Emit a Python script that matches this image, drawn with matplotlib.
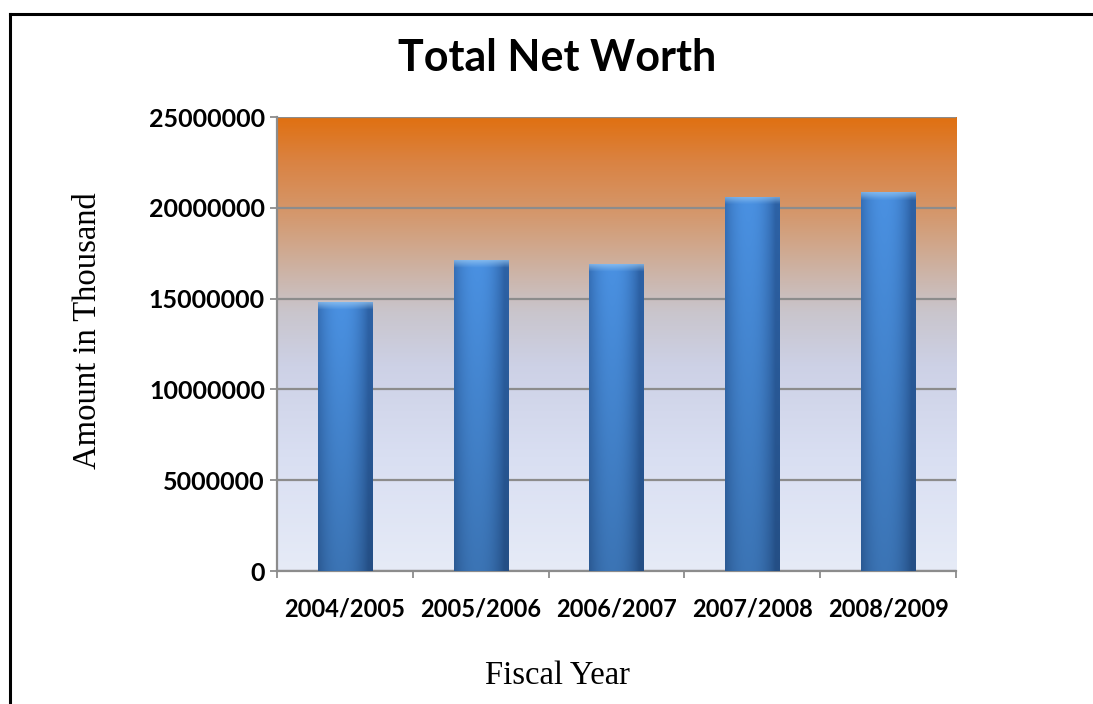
import numpy as np
import matplotlib
matplotlib.use("Agg")
import matplotlib.pyplot as plt
from matplotlib.colors import LinearSegmentedColormap, to_rgb
from matplotlib.lines import Line2D

# Net worth per fiscal year (amount in thousand)
years = ["2004/2005", "2005/2006", "2006/2007", "2007/2008", "2008/2009"]
net_worth = [14800000, 17100000, 16900000, 20600000, 20850000]
y_ticks = [0, 5000000, 10000000, 15000000, 20000000, 25000000]

fig = plt.figure(figsize=(10.93, 7.04), dpi=100)
ax = fig.add_axes([0.2534, 0.1889, 0.6213, 0.6449])

x = np.arange(len(years))
ax.set_xlim(-0.5, len(years) - 0.5)
ax.set_ylim(0, 25000000)

# plot area background: pale blue at the bottom, orange at the top
bg = LinearSegmentedColormap.from_list("bg", [
    (0.00, "#e6ebf7"),
    (0.25, "#d9dff2"),
    (0.45, "#cdd1e6"),
    (0.57, "#c9c5cc"),
    (0.66, "#cdb3a5"),
    (0.78, "#d4996f"),
    (0.90, "#da8343"),
    (1.00, "#e07010"),
])
grad = np.linspace(0, 1, 256).reshape(-1, 1)
ax.imshow(grad, cmap=bg, origin="lower", aspect="auto",
          extent=(-0.5, len(years) - 0.5, 0, 25000000), zorder=0)

ax.set_yticks(y_ticks)
ax.grid(axis="y", color="#8c8c8c", linewidth=1.6, zorder=1)
ax.set_axisbelow(True)

bars = ax.bar(x, net_worth, width=0.40, color="#3a7fd0", zorder=2, linewidth=0)

# shade each bar: darker edges, lighter centre, darker bottom, bevelled top
edge = np.array(to_rgb("#2d62a6"))
mid = np.array(to_rgb("#4a91e2"))
hi = np.array(to_rgb("#9ccbf4"))
cols = np.linspace(-1, 1, 60)
hprof = np.clip(1 - np.abs(cols + 0.15) ** 2.2, 0, 1)
px_per_unit = ax.get_window_extent().height / 25000000
for rect, val in zip(bars, net_worth):
    rows = 300
    vprof = np.linspace(0.80, 1.0, rows).reshape(rows, 1, 1)
    img = (edge + (mid - edge) * hprof.reshape(1, -1, 1)) * vprof
    bevel_rows = max(2, int(rows * 8 / (val * px_per_unit)))
    for k in range(bevel_rows):
        t = 1 - k / bevel_rows
        img[rows - 1 - k] = img[rows - 1 - k] * (1 - 0.65 * t) + hi * 0.65 * t
    img = np.clip(img, 0, 1)
    x0 = rect.get_x()
    im = ax.imshow(img, origin="lower", aspect="auto", zorder=3,
                   extent=(x0, x0 + rect.get_width(), 0, val))
    im.set_clip_path(rect)

ax.set_xlim(-0.5, len(years) - 0.5)
ax.set_ylim(0, 25000000)

# category labels centred on bars, tick marks between categories
ax.set_xticks(x)
ax.set_xticklabels(years, fontsize=17, fontweight="bold", family="Lato")
ax.set_xticks(np.arange(-0.5, len(years)), minor=True)
ax.tick_params(axis="x", which="major", length=0, pad=19)
ax.tick_params(axis="x", which="minor", length=5, width=1.3, color="#8c8c8c")
ax.set_yticklabels([str(v) for v in y_ticks], fontsize=18, fontweight="bold", family="Lato")
ax.tick_params(axis="y", length=5, width=1.3, color="#8c8c8c", pad=3.6)

for side in ["top", "right"]:
    ax.spines[side].set_visible(False)
for side in ["left", "bottom"]:
    ax.spines[side].set_color("#8c8c8c")
    ax.spines[side].set_linewidth(1.6)

fig.text(0.5096, 0.917, "Total Net Worth", ha="center", va="center",
         fontsize=31, fontweight="bold", family="Lato")
fig.text(0.0805, 0.531, "Amount in Thousand", ha="center", va="center",
         rotation=90, fontsize=23.5, family="Liberation Serif")
fig.text(0.5096, 0.040, "Fiscal Year", ha="center", va="center",
         fontsize=23.5, family="Liberation Serif")

# frame lines along the left and top of the figure
fig.add_artist(Line2D([0.0092, 0.0092], [0, 0.980], color="black", linewidth=2.2,
                      transform=fig.transFigure))
fig.add_artist(Line2D([0.0092, 1.0], [0.980, 0.980], color="black", linewidth=2.2,
                      transform=fig.transFigure))

fig.savefig("out.png", dpi=100, facecolor="white")
